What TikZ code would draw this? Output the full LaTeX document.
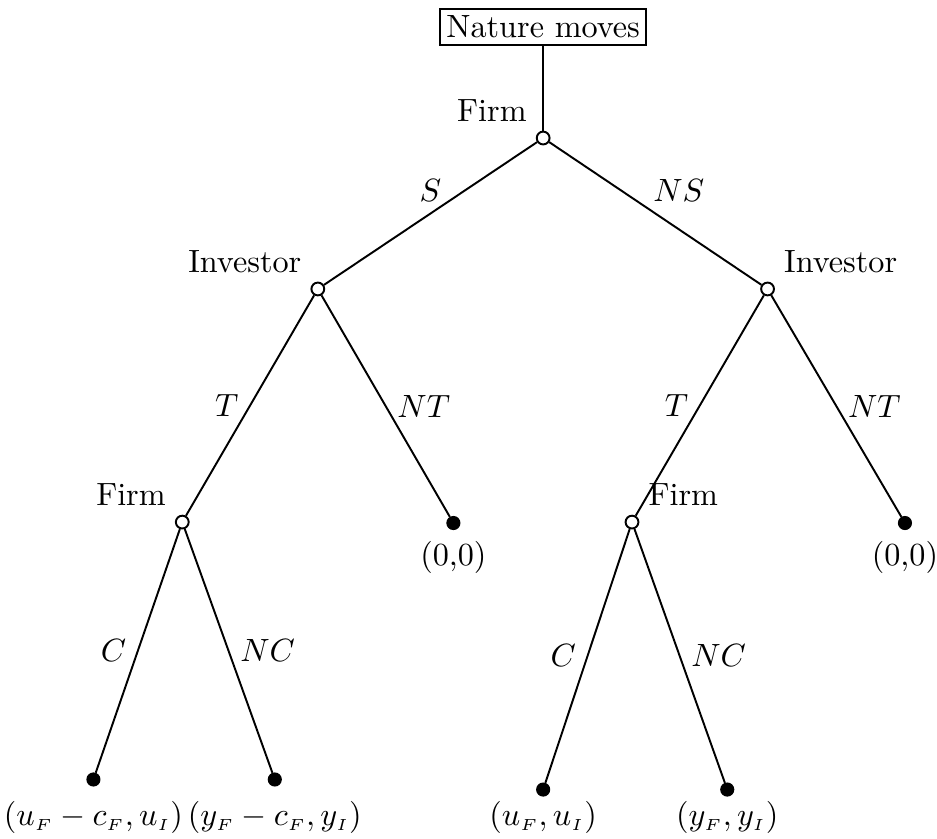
\documentclass[tikz,border=0pt]{standalone}
\usetikzlibrary{positioning}
\newcommand{\sub}[1]{{\scriptscriptstyle #1}}
\begin{document}
\begin{tikzpicture}[
  scale=1,
  dnode/.style={circle, draw=black, fill=white, semithick, inner sep=0pt, minimum size=1.4mm},
  leaf/.style={circle, draw=black, fill=black, inner sep=0pt, minimum size=1.4mm},
  edge/.style={semithick, draw=black}
]
  \useasboundingbox (0,0) rectangle (10.23,-9.15);

  % Nodo inicial (naturaleza)
  \node[draw, semithick, inner sep=2pt] (nat) at (5.93,-0.295) {Nature moves};

  % Nodos de decisión
  \node[dnode, label={[label distance=0pt]above left:Firm}] (f0) at (5.93,-1.507) {};
  \node[dnode, label={[label distance=0pt]above left:Investor}] (i1) at (3.47,-3.155) {};
  \node[dnode, label={[label distance=0pt]above right:Investor}] (i2) at (8.38,-3.155) {};
  \node[dnode, label={[label distance=0pt]above left:Firm}] (f1) at (1.99,-5.70) {};
  \node[dnode, label={[label distance=0pt]above right:Firm}] (f2) at (6.90,-5.70) {};

  % Nodos terminales con pagos
  \node[leaf, label=below:{(0,0)}] (z1) at (4.95,-5.71) {};
  \node[leaf, label=below:{(0,0)}] (z2) at (9.88,-5.71) {};
  \node[leaf, label={[label distance=1pt]below:{$(u_\sub{F}-c_\sub{F},u_\sub{I})$}}] (l1) at (1.02,-8.51) {};
  \node[leaf, label={[label distance=1pt]below:{$(y_\sub{F}-c_\sub{F},y_\sub{I})$}}] (l2) at (3.00,-8.51) {};
  \node[leaf, label={[label distance=-2pt]below:{$(u_\sub{F},u_\sub{I})$}}] (l3) at (5.93,-8.62) {};
  \node[leaf, label={[label distance=-2pt]below:{$(y_\sub{F},y_\sub{I})$}}] (l4) at (7.94,-8.62) {};

  % Ramas
  \draw[edge] (nat) -- (f0);
  \draw[edge] (f0) -- node[midway, above] {$S$} (i1);
  \draw[edge] (f0) -- node[midway, above right, xshift=-1.5mm] {$NS$} (i2);
  \draw[edge] (i1) -- node[midway, left] {$T$} (f1);
  \draw[edge] (i1) -- node[midway, right] {$NT$} (z1);
  \draw[edge] (i2) -- node[midway, left] {$T$} (f2);
  \draw[edge] (i2) -- node[midway, right] {$NT$} (z2);
  \draw[edge] (f1) -- node[midway, left] {$C$} (l1);
  \draw[edge] (f1) -- node[midway, right] {$NC$} (l2);
  \draw[edge] (f2) -- node[midway, left] {$C$} (l3);
  \draw[edge] (f2) -- node[midway, right] {$NC$} (l4);
\end{tikzpicture}
\end{document}
